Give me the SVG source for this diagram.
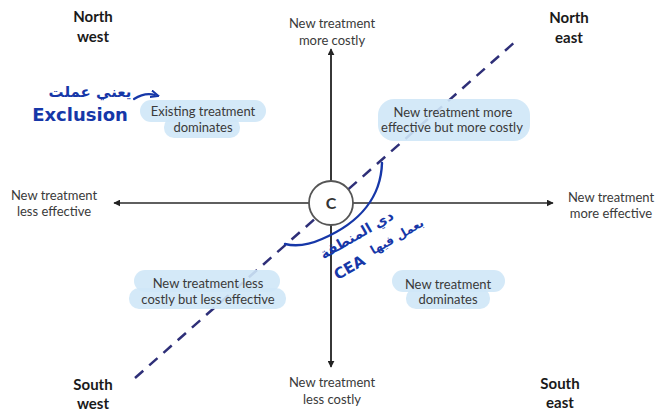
<svg xmlns="http://www.w3.org/2000/svg" width="663" height="411" viewBox="0 0 663 411">
<defs>
<marker id="ah" viewBox="0 0 10 10" refX="9" refY="5" markerWidth="7" markerHeight="7" markerUnits="userSpaceOnUse" orient="auto">
<path d="M0,0 L10,5 L0,10 z" fill="#222"/>
</marker>
<marker id="bh" viewBox="0 0 10 10" refX="5" refY="5" markerWidth="9" markerHeight="9" markerUnits="userSpaceOnUse" orient="auto">
<path d="M0,1 L9,5 L0,9" fill="none" stroke="#1637a8" stroke-width="2.2" stroke-linecap="round"/>
</marker>
</defs>
<style>
.lbl{font-family:Lato,"Open Sans","DejaVu Sans",sans-serif;font-size:13px;fill:#3a3a3a;text-anchor:middle}
.cor{font-family:Lato,"Open Sans","DejaVu Sans",sans-serif;font-size:15px;font-weight:bold;fill:#1a1a1a;text-anchor:middle}
.hl{fill:#cfe7f7;opacity:0.9}
.axis{stroke:#2a2a2a;stroke-width:1.5;fill:none}
.hand{font-family:"DejaVu Sans",sans-serif;font-weight:bold;fill:#1637a8}
</style>
<rect width="663" height="411" fill="#ffffff"/>

<g id="connectors">
<line class="axis" x1="331" y1="366" x2="331" y2="49" marker-end="url(#ah)"/>
<line class="axis" x1="331" y1="52" x2="331" y2="367" marker-end="url(#ah)"/>
<line class="axis" x1="331" y1="203" x2="114" y2="203" marker-end="url(#ah)"/>
<line class="axis" x1="331" y1="203" x2="553" y2="203" marker-end="url(#ah)"/>
<line x1="135" y1="378" x2="516" y2="41" stroke="#2e2f78" stroke-width="2.5" stroke-dasharray="11,8"/>
</g>

<g id="node-center">
<circle cx="331" cy="203" r="22" fill="#ffffff" stroke="#555" stroke-width="1.8"/>
<text x="331" y="209" font-family="Lato,'Open Sans',sans-serif" font-size="16" font-weight="bold" fill="#333" text-anchor="middle">C</text>
</g>

<g id="node-north-west"><text class="cor" x="93" y="22">North</text><text class="cor" x="93" y="42">west</text></g>
<g id="node-north-east"><text class="cor" x="569" y="23">North</text><text class="cor" x="569" y="43">east</text></g>
<g id="node-south-west"><text class="cor" x="93" y="390">South</text><text class="cor" x="93" y="409">west</text></g>
<g id="node-south-east"><text class="cor" x="560" y="389">South</text><text class="cor" x="560" y="408">east</text></g>

<g id="node-top"><text class="lbl" x="332" y="28">New treatment</text><text class="lbl" x="332" y="45">more costly</text></g>
<g id="node-bottom"><text class="lbl" x="332" y="387">New treatment</text><text class="lbl" x="332" y="404">less costly</text></g>
<g id="node-left"><text class="lbl" x="54" y="200">New treatment</text><text class="lbl" x="54" y="216">less effective</text></g>
<g id="node-right"><text class="lbl" x="611" y="202">New treatment</text><text class="lbl" x="611" y="218">more effective</text></g>

<g id="node-nw-quadrant">
<rect class="hl" x="140" y="100" width="126" height="22" rx="11"/>
<rect class="hl" x="164" y="117" width="76" height="21" rx="10"/>
<text class="lbl" x="203" y="116">Existing treatment</text>
<text class="lbl" x="203" y="132">dominates</text>
</g>
<g id="node-ne-quadrant">
<rect class="hl" x="378" y="99" width="152" height="42" rx="16"/>
<text class="lbl" x="453" y="117">New treatment more</text>
<text class="lbl" x="452" y="132">effective but more costly</text>
</g>
<g id="node-sw-quadrant">
<rect class="hl" x="134" y="270" width="146" height="22" rx="11"/>
<rect class="hl" x="129" y="288" width="157" height="21" rx="10"/>
<text class="lbl" x="208" y="288">New treatment less</text>
<text class="lbl" x="208" y="304">costly but less effective</text>
</g>
<g id="node-se-quadrant">
<rect class="hl" x="392" y="270" width="113" height="22" rx="11"/>
<rect class="hl" x="406" y="288" width="84" height="21" rx="10"/>
<text class="lbl" x="448" y="289">New treatment</text>
<text class="lbl" x="448" y="304">dominates</text>
</g>

<g id="annotation-exclusion">
<text class="hand" x="90" y="97" font-size="15" text-anchor="middle" direction="rtl">يعني عملت</text>
<text class="hand" x="80" y="121" font-size="18" text-anchor="middle">Exclusion</text>
<path d="M134,99 Q145,92 155,95" fill="none" stroke="#1637a8" stroke-width="2.2" stroke-linecap="round" marker-end="url(#bh)"/>
</g>

<g id="annotation-cea">
<path d="M382,163 C381,195 362,222 322,239 Q302,248 285,244" fill="none" stroke="#1637a8" stroke-width="2.4" stroke-linecap="round"/>
<text class="hand" font-size="14" text-anchor="middle" direction="rtl" transform="translate(359,239) rotate(-30)">دي المنطقة</text>
<text class="hand" font-size="12" text-anchor="middle" direction="rtl" transform="translate(399,240) rotate(-30)">بعمل فيها</text>
<text class="hand" font-size="15" text-anchor="middle" transform="translate(352,272) rotate(-30)">CEA</text>
</g>
</svg>
